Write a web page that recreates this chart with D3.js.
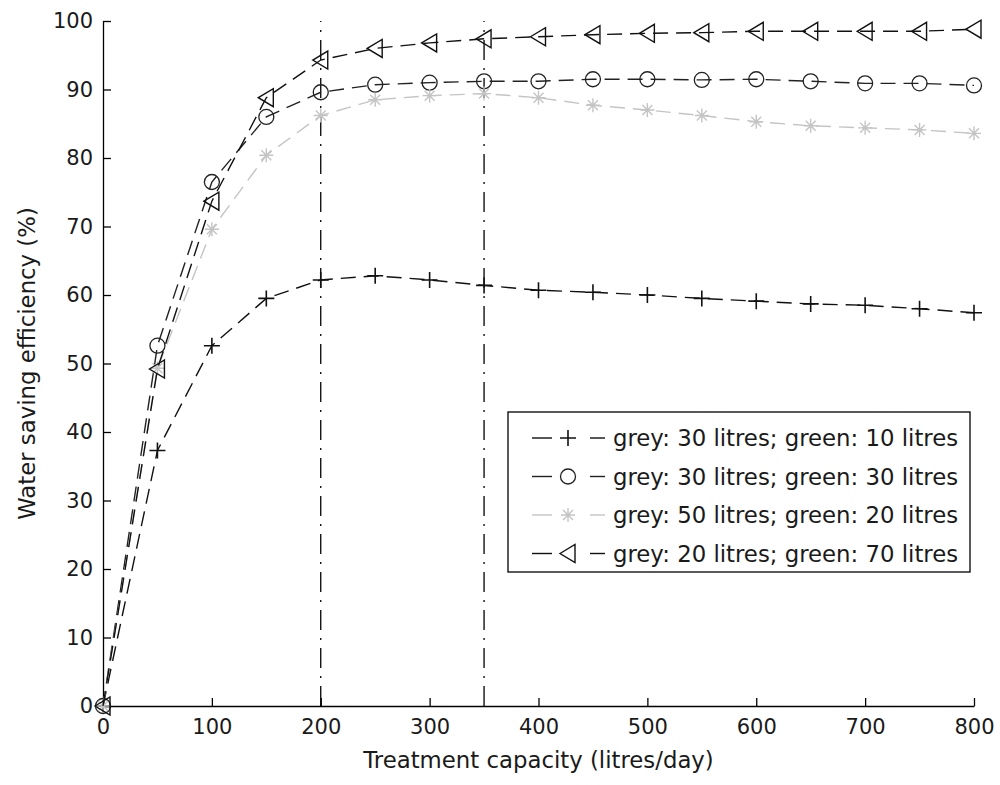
<!DOCTYPE html>
<html>
<head>
<meta charset="utf-8">
<script src="https://cdn.jsdelivr.net/npm/d3@7"></script>
<style>
  body { margin: 0; background: #fff; }
  text { font-family: 'DejaVu Sans', sans-serif; }
</style>
</head>
<body>
<div id="chart"></div>
<script>
(function() {

  // capacity on x axis (litres/day)
  const capacity = [0, 50, 100, 150, 200, 250, 300, 350, 400, 450, 500, 550, 600, 650, 700, 750, 800];

  // water saving efficiency (%) per configuration
  const grey30green10 = [0, 37.3, 52.6, 59.5, 62.2, 62.8, 62.2, 61.4, 60.7, 60.4, 60.0, 59.5, 59.1, 58.7, 58.5, 58.0, 57.4];
  const grey30green30 = [0, 52.6, 76.5, 86.0, 89.6, 90.7, 91.0, 91.2, 91.2, 91.5, 91.5, 91.4, 91.5, 91.2, 90.9, 90.9, 90.6];
  const grey50green20 = [0, 49.3, 69.6, 80.4, 86.2, 88.5, 89.1, 89.4, 88.8, 87.7, 87.0, 86.2, 85.3, 84.7, 84.4, 84.1, 83.6];
  const grey20green70 = [0, 49.2, 73.7, 88.8, 94.3, 96.0, 96.8, 97.4, 97.7, 98.0, 98.2, 98.3, 98.5, 98.5, 98.5, 98.5, 98.8];

  const seriesNames = [
    'grey: 30 litres; green: 10 litres',
    'grey: 30 litres; green: 30 litres',
    'grey: 50 litres; green: 20 litres',
    'grey: 20 litres; green: 70 litres'
  ];
  const seriesValues = [grey30green10, grey30green30, grey50green20, grey20green70];
  const seriesMarkers = ['plus', 'circle', 'star', 'triangle'];
  const seriesColors = ['#111', '#222', '#c4c4c4', '#111'];

  // vertical reference lines
  const refLines = [200, 350];

  const xTicks = [0, 100, 200, 300, 400, 500, 600, 700, 800];
  const yTicks = [0, 10, 20, 30, 40, 50, 60, 70, 80, 90, 100];

  const width = 1000, height = 785;
  const margin = { left: 103, right: 26, top: 21, bottom: 79 };
  const plotW = width - margin.left - margin.right;
  const plotH = height - margin.top - margin.bottom;

  const svg = d3.select('#chart').append('svg')
    .attr('width', width)
    .attr('height', height)
    .style('background', '#fff');

  const g = svg.append('g')
    .attr('transform', `translate(${margin.left}, ${margin.top})`);

  const xScale = d3.scaleLinear().domain([0, 800]).range([0, plotW]);
  const yScale = d3.scaleLinear().domain([0, 100]).range([plotH, 0]);

  // axes, ticks point inwards like matlab
  const xAxis = g.append('g')
    .attr('transform', `translate(0, ${plotH})`)
    .call(d3.axisBottom(xScale).tickValues(xTicks).tickSizeInner(-8).tickSizeOuter(0).tickPadding(13));
  const yAxis = g.append('g')
    .call(d3.axisLeft(yScale).tickValues(yTicks).tickSizeInner(-8).tickSizeOuter(0).tickPadding(10));

  [xAxis, yAxis].forEach(ax => {
    ax.selectAll('path, line').attr('stroke', '#000').attr('stroke-width', 1.3);
    ax.selectAll('text').attr('font-size', 21).attr('fill', '#1a1a1a')
      .style('font-family', "'DejaVu Sans', sans-serif");
  });

  // dash-dot reference lines
  refLines.forEach(v => {
    g.append('line')
      .attr('x1', xScale(v)).attr('x2', xScale(v))
      .attr('y1', yScale(0)).attr('y2', yScale(100))
      .attr('stroke', '#000')
      .attr('stroke-width', 1.3)
      .attr('stroke-dasharray', '20,8,2,8');
  });

  function drawMarker(sel, type, color) {
    if (type === 'plus') {
      sel.append('path').attr('d', 'M-8,0H8M0,-8V8')
        .attr('stroke', color).attr('stroke-width', 1.6).attr('fill', 'none');
    } else if (type === 'circle') {
      sel.append('circle').attr('r', 7.5)
        .attr('stroke', color).attr('stroke-width', 1.3).attr('fill', 'none');
    } else if (type === 'star') {
      sel.append('path').attr('d', 'M-7,0H7M0,-7V7M-5,-5L5,5M-5,5L5,-5')
        .attr('stroke', color).attr('stroke-width', 1.4).attr('fill', 'none');
    } else if (type === 'triangle') {
      sel.append('path').attr('d', 'M-8,0L7,-9L7,9Z')
        .attr('stroke', color).attr('stroke-width', 1.4).attr('fill', 'none');
    }
  }

  const valueLine = d3.line()
    .x(d => xScale(d.x))
    .y(d => yScale(d.y));

  seriesValues.forEach((vals, i) => {
    const pts = vals.map((v, j) => ({ x: capacity[j], y: v }));
    g.append('path')
      .datum(pts)
      .attr('d', valueLine)
      .attr('fill', 'none')
      .attr('stroke', seriesColors[i])
      .attr('stroke-width', 1.4)
      .attr('stroke-dasharray', '15,8');
    g.selectAll('.marker-' + i)
      .data(pts)
      .enter()
      .append('g')
        .attr('class', 'marker-' + i)
        .attr('transform', d => `translate(${xScale(d.x)}, ${yScale(d.y)})`)
        .each(function() { drawMarker(d3.select(this), seriesMarkers[i], seriesColors[i]); });
  });

  // legend
  const legend = svg.append('g');
  const legendBox = { x: 508, y: 412, w: 462, h: 160 };
  legend.append('rect')
    .attr('x', legendBox.x).attr('y', legendBox.y)
    .attr('width', legendBox.w).attr('height', legendBox.h)
    .attr('fill', '#fff').attr('stroke', '#000').attr('stroke-width', 1.3);

  seriesNames.forEach((name, i) => {
    const rowY = 438 + i * 38.5;
    legend.append('line')
      .attr('x1', 532).attr('x2', 552).attr('y1', rowY).attr('y2', rowY)
      .attr('stroke', seriesColors[i]).attr('stroke-width', 1.4);
    legend.append('line')
      .attr('x1', 590).attr('x2', 605).attr('y1', rowY).attr('y2', rowY)
      .attr('stroke', seriesColors[i]).attr('stroke-width', 1.4);
    const m = legend.append('g').attr('transform', `translate(568, ${rowY})`);
    drawMarker(m, seriesMarkers[i], seriesColors[i]);
    legend.append('text')
      .attr('x', 613).attr('y', rowY)
      .attr('dy', '0.36em')
      .attr('font-size', 22.8)
      .attr('fill', '#1a1a1a')
      .text(name);
  });

  // axis labels
  svg.append('text')
    .attr('x', margin.left + plotW / 2)
    .attr('y', 768)
    .attr('text-anchor', 'middle')
    .attr('font-size', 22.8)
    .attr('fill', '#1a1a1a')
    .text('Treatment capacity (litres/day)');

  svg.append('text')
    .attr('transform', `translate(35, ${margin.top + plotH / 2}) rotate(-90)`)
    .attr('text-anchor', 'middle')
    .attr('font-size', 22.8)
    .attr('fill', '#1a1a1a')
    .text('Water saving efficiency (%)');

}());
</script>
</body>
</html>
